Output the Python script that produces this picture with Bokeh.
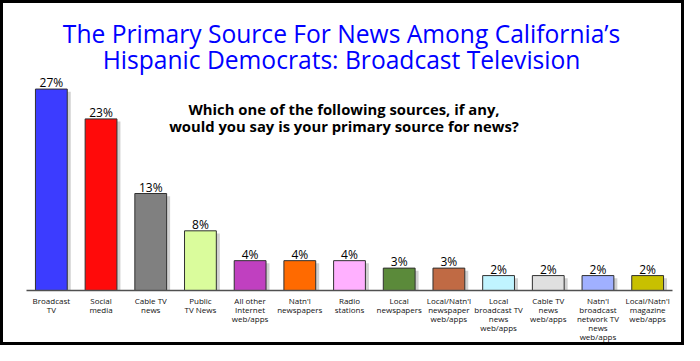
from bokeh.plotting import figure
from bokeh.models import FactorRange, ColumnDataSource
from bokeh.transform import dodge
from bokeh.core.properties import value
from bokeh.embed import file_html
from bokeh.resources import INLINE

categories = [
    "Broadcast\nTV", "Social\nmedia", "Cable TV\nnews", "Public\nTV News",
    "All other\nInternet\nweb/apps", "Natn'l\nnewspapers", "Radio\nstations",
    "Local\nnewspapers", "Local/Natn'l\nnewspaper\nweb/apps",
    "Local\nbroadcast TV\nnews\nweb/apps", "Cable TV\nnews\nweb/apps",
    "Natn'l\nbroadcast\nnetwork TV\nnews\nweb/apps", "Local/Natn'l\nmagazine\nweb/apps",
]
values = [27, 23, 13, 8, 4, 4, 4, 3, 3, 2, 2, 2, 2]
labels = [f"{v}%" for v in values]
colors = ["#3c3cff", "#ff0a0a", "#808080", "#dafc9c", "#c040c0", "#ff6a00",
          "#ffb0ff", "#5b8a3a", "#c06a44", "#c0f4ff", "#e0e0e0", "#a0b0ff", "#c8c000"]

title_lines = ["The Primary Source For News Among California\u2019s",
               "Hispanic Democrats: Broadcast Television"]
subtitle_lines = ["Which one of the following sources, if any,",
                  "would you say is your primary source for news?"]

W, H = 678, 339
src = ColumnDataSource(dict(cat=categories, val=values, lab=labels, col=colors,
                            shadow=[v - 0.35 for v in values]))

p = figure(width=W, height=H, x_range=FactorRange(factors=categories, range_padding=0),
           y_range=(0, 38.47), output_backend="svg", toolbar_location=None,
           min_border_left=23, min_border_right=15, min_border_top=0, min_border_bottom=58)
p.styles = {"border": "3px solid black", "box-sizing": "content-box"}
p.outline_line_color = None
p.xgrid.visible = False
p.ygrid.visible = False
p.yaxis.visible = False

p.vbar(x=dodge("cat", 0.07, range=p.x_range), top="shadow", width=0.64, source=src,
       fill_color="#d0d0d0", line_color=None)
p.vbar(x="cat", top="val", width=0.64, source=src, fill_color="col",
       line_color="#303030", line_width=1)
p.text(x="cat", y="val", text="lab", source=src, text_align="center",
       text_baseline="alphabetic", y_offset=-6.5, text_font=value("Open Sans"),
       text_font_size="12px", text_color="#000000")

tf = value("Open Sans")
p.text(x=[6.34], y=[34.4], text=[title_lines[0]], text_align="center",
       text_baseline="alphabetic", text_font=tf, text_font_size="24.6px", text_color="#0000ff")
p.text(x=[6.34], y=[31.0], text=[title_lines[1]], text_align="center",
       text_baseline="alphabetic", text_font=tf, text_font_size="24.6px", text_color="#0000ff")
p.text(x=[6.39], y=[24.34], text=[subtitle_lines[0]], text_align="center",
       text_baseline="alphabetic", text_font=tf, text_font_size="14.8px",
       text_font_style="bold", text_color="#000000")
p.text(x=[6.39], y=[22.04], text=[subtitle_lines[1]], text_align="center",
       text_baseline="alphabetic", text_font=tf, text_font_size="14.8px",
       text_font_style="bold", text_color="#000000")

ax = p.xaxis[0]
ax.axis_line_color = "#505050"
ax.axis_line_width = 1.5
ax.major_tick_line_color = None
ax.minor_tick_line_color = None
ax.major_tick_out = 0
ax.major_tick_in = 0
ax.minor_tick_out = 0
ax.major_label_standoff = 4
ax.major_label_text_font = "Open Sans"
ax.major_label_text_font_size = "8px"
ax.major_label_text_line_height = 0.84
ax.major_label_text_color = "#111111"
ax.major_label_orientation = "horizontal"

open("out.html", "w").write(file_html(p, INLINE))
